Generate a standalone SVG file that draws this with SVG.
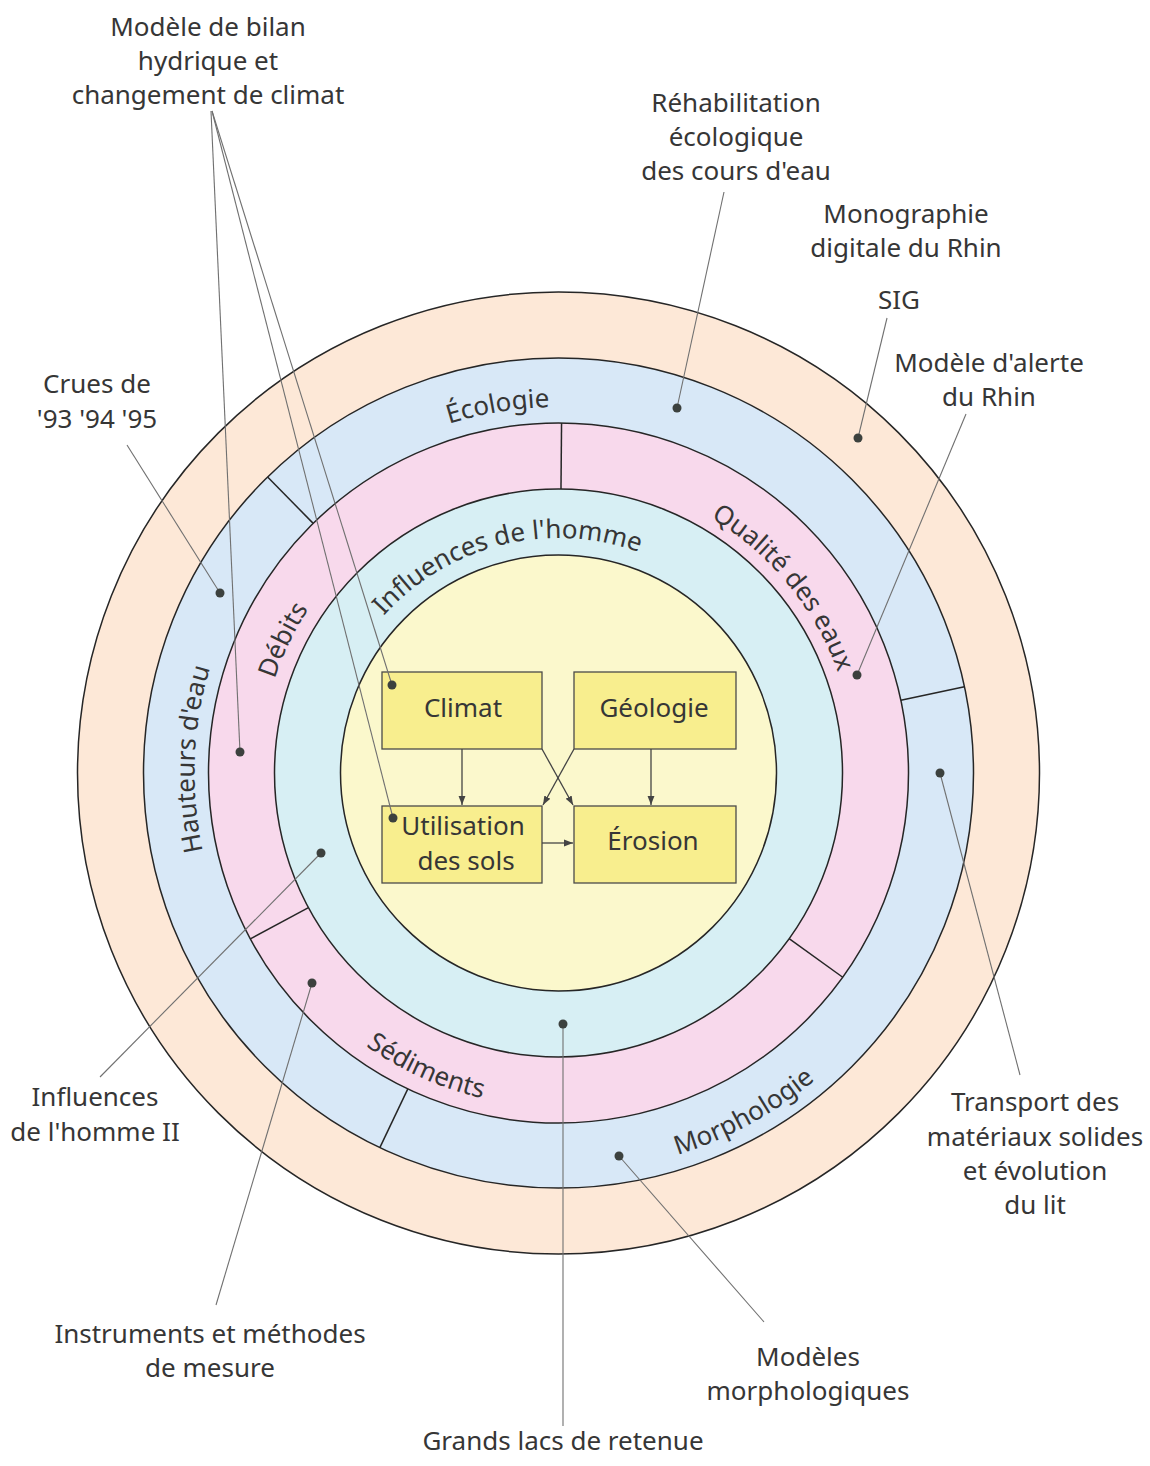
<svg xmlns="http://www.w3.org/2000/svg" width="1150" height="1466" viewBox="0 0 1150 1466">
  <style>
    text { font-family: "Noto Sans", "Open Sans", "DejaVu Sans", sans-serif; font-size: 26px; fill: #363636; }
    .lbl { text-anchor: middle; }
    .ring { stroke: #262626; stroke-width: 1.5; }
    .sep { stroke: #262626; stroke-width: 1.5; }
    .box { fill: #f8ee8e; stroke: #4a4a4a; stroke-width: 1.3; }
    .arrow { stroke: #444; stroke-width: 1.3; fill: none; marker-end: url(#arr); }
    .lead { stroke: #707070; stroke-width: 1.1; fill: none; }
    .dot { fill: #3c413e; }
  </style>
  <defs>
    <marker id="arr" viewBox="0 0 10 10" refX="10" refY="5" markerWidth="9" markerHeight="9" markerUnits="userSpaceOnUse" orient="auto">
      <path d="M0,1.2 L10,5 L0,8.8 z" fill="#444"/>
    </marker>
    <!-- baseline arcs for the ring titles, relative to the ring centre -->
    <path id="arcEcologie" d="M -359.76 -67.33 A 366 366 0 0 1 318.86 -179.67"/>
    <path id="arcInfluences" d="M -233.71 -24.56 A 235 235 0 0 1 194.82 -131.41"/>
    <path id="arcQualite" d="M -99.14 -279.96 A 297 297 0 0 1 255.90 150.74"/>
    <path id="arcDebits" d="M -214.36 208.45 A 299 299 0 0 1 30.22 -297.47"/>
    <path id="arcHauteurs" d="M -137.53 337.02 A 364 364 0 0 1 -111.27 -346.58"/>
    <path id="arcSediments" d="M -333.10 -24.46 A 334 334 0 0 0 239.45 232.85"/>
    <path id="arcMorpho" d="M -264.52 300.04 A 400 400 0 0 0 395.50 -59.82"/>
  </defs>

  <rect width="1150" height="1466" fill="#ffffff"/>

  <!-- concentric rings -->
  <g transform="translate(558.5,773)">
    <g id="ring-outer"><circle class="ring" r="481" fill="#fde8d7"/></g>
    <g id="ring-blue">
      <circle class="ring" r="415" fill="#d8e8f7"/>
      <line class="sep" x1="350" y1="0" x2="415" y2="0" transform="rotate(225.5)"/>
      <line class="sep" x1="350" y1="0" x2="415" y2="0" transform="rotate(348)"/>
      <line class="sep" x1="350" y1="0" x2="415" y2="0" transform="rotate(115.5)"/>
      <text><textPath href="#arcEcologie" startOffset="50%" text-anchor="middle">Écologie</textPath></text>
      <text><textPath href="#arcHauteurs" startOffset="50%" text-anchor="middle">Hauteurs d'eau</textPath></text>
      <text><textPath href="#arcMorpho" startOffset="50%" text-anchor="middle">Morphologie</textPath></text>
    </g>
    <g id="ring-pink">
      <circle class="ring" r="350" fill="#f8d9ec"/>
      <line class="sep" x1="284" y1="0" x2="350" y2="0" transform="rotate(270.5)"/>
      <line class="sep" x1="284" y1="0" x2="350" y2="0" transform="rotate(35.7)"/>
      <line class="sep" x1="284" y1="0" x2="350" y2="0" transform="rotate(151.7)"/>
      <text><textPath href="#arcQualite" startOffset="50%" text-anchor="middle">Qualité des eaux</textPath></text>
      <text><textPath href="#arcDebits" startOffset="50%" text-anchor="middle">Débits</textPath></text>
      <text><textPath href="#arcSediments" startOffset="50%" text-anchor="middle">Sédiments</textPath></text>
    </g>
    <g id="ring-teal">
      <circle class="ring" r="284" fill="#d7eff4"/>
      <text><textPath href="#arcInfluences" startOffset="50%" text-anchor="middle">Influences de l'homme</textPath></text>
    </g>
    <g id="ring-core"><circle class="ring" r="218" fill="#fbf8cc"/></g>
  </g>

  <!-- factor boxes -->
  <g id="box-climat">
    <rect class="box" x="382" y="672" width="160" height="77"/>
    <text class="lbl" x="463" y="717">Climat</text>
  </g>
  <g id="box-geologie">
    <rect class="box" x="574" y="672" width="162" height="77"/>
    <text class="lbl" x="654" y="717">Géologie</text>
  </g>
  <g id="box-utilisation">
    <rect class="box" x="382" y="806" width="160" height="77"/>
    <text class="lbl" x="463" y="835">Utilisation</text>
    <text class="lbl" x="466" y="870">des sols</text>
  </g>
  <g id="box-erosion">
    <rect class="box" x="574" y="806" width="162" height="77"/>
    <text class="lbl" x="653" y="850">Érosion</text>
  </g>

  <!-- connectors -->
  <g id="connectors">
    <line class="arrow" x1="462" y1="749" x2="462" y2="805"/>
    <line class="arrow" x1="651" y1="749" x2="651" y2="805"/>
    <line class="arrow" x1="542" y1="749" x2="573" y2="805"/>
    <line class="arrow" x1="574" y1="749" x2="543" y2="805"/>
    <line class="arrow" x1="542" y1="843" x2="573" y2="843"/>

    <line class="lead" x1="127" y1="445" x2="220" y2="593"/>
    <line class="lead" x1="211" y1="111" x2="240" y2="752"/>
    <line class="lead" x1="212" y1="111" x2="392" y2="685"/>
    <line class="lead" x1="212" y1="111" x2="393" y2="818"/>
    <line class="lead" x1="724" y1="192" x2="677" y2="408"/>
    <line class="lead" x1="887" y1="318" x2="858" y2="438"/>
    <line class="lead" x1="966" y1="414" x2="857" y2="675"/>
    <line class="lead" x1="1020" y1="1075" x2="940" y2="773"/>
    <line class="lead" x1="100" y1="1077" x2="321" y2="853"/>
    <line class="lead" x1="216" y1="1305" x2="312" y2="983"/>
    <line class="lead" x1="563" y1="1426" x2="563" y2="1024"/>
    <line class="lead" x1="764" y1="1322" x2="619" y2="1156"/>
  </g>

  <!-- anchor dots -->
  <g id="dots">
    <circle class="dot" cx="220" cy="593" r="4.5"/>
    <circle class="dot" cx="240" cy="752" r="4.5"/>
    <circle class="dot" cx="392" cy="685" r="4.5"/>
    <circle class="dot" cx="393" cy="818" r="4.5"/>
    <circle class="dot" cx="677" cy="408" r="4.5"/>
    <circle class="dot" cx="858" cy="438" r="4.5"/>
    <circle class="dot" cx="857" cy="675" r="4.5"/>
    <circle class="dot" cx="940" cy="773" r="4.5"/>
    <circle class="dot" cx="321" cy="853" r="4.5"/>
    <circle class="dot" cx="312" cy="983" r="4.5"/>
    <circle class="dot" cx="563" cy="1024" r="4.5"/>
    <circle class="dot" cx="619" cy="1156" r="4.5"/>
  </g>

  <!-- project labels -->
  <g id="label-bilan">
    <text class="lbl" x="208" y="36">Modèle de bilan</text>
    <text class="lbl" x="208" y="70">hydrique et</text>
    <text class="lbl" x="208" y="104">changement de climat</text>
  </g>
  <g id="label-rehabilitation">
    <text class="lbl" x="736" y="112">Réhabilitation</text>
    <text class="lbl" x="736" y="146">écologique</text>
    <text class="lbl" x="736" y="180">des cours d'eau</text>
  </g>
  <g id="label-monographie">
    <text class="lbl" x="906" y="223">Monographie</text>
    <text class="lbl" x="906" y="257">digitale du Rhin</text>
  </g>
  <g id="label-sig">
    <text class="lbl" x="899" y="309">SIG</text>
  </g>
  <g id="label-alerte">
    <text class="lbl" x="989" y="372">Modèle d'alerte</text>
    <text class="lbl" x="989" y="406">du Rhin</text>
  </g>
  <g id="label-crues">
    <text class="lbl" x="97" y="393">Crues de</text>
    <text class="lbl" x="97" y="428">'93 '94 '95</text>
  </g>
  <g id="label-influences2">
    <text class="lbl" x="95" y="1106">Influences</text>
    <text class="lbl" x="95" y="1141">de l'homme II</text>
  </g>
  <g id="label-instruments">
    <text class="lbl" x="210" y="1343">Instruments et méthodes</text>
    <text class="lbl" x="210" y="1377">de mesure</text>
  </g>
  <g id="label-lacs">
    <text class="lbl" x="563" y="1450">Grands lacs de retenue</text>
  </g>
  <g id="label-morpho">
    <text class="lbl" x="808" y="1366">Modèles</text>
    <text class="lbl" x="808" y="1400">morphologiques</text>
  </g>
  <g id="label-transport">
    <text class="lbl" x="1035" y="1111">Transport des</text>
    <text class="lbl" x="1035" y="1146">matériaux solides</text>
    <text class="lbl" x="1035" y="1180">et évolution</text>
    <text class="lbl" x="1035" y="1214">du lit</text>
  </g>
</svg>
